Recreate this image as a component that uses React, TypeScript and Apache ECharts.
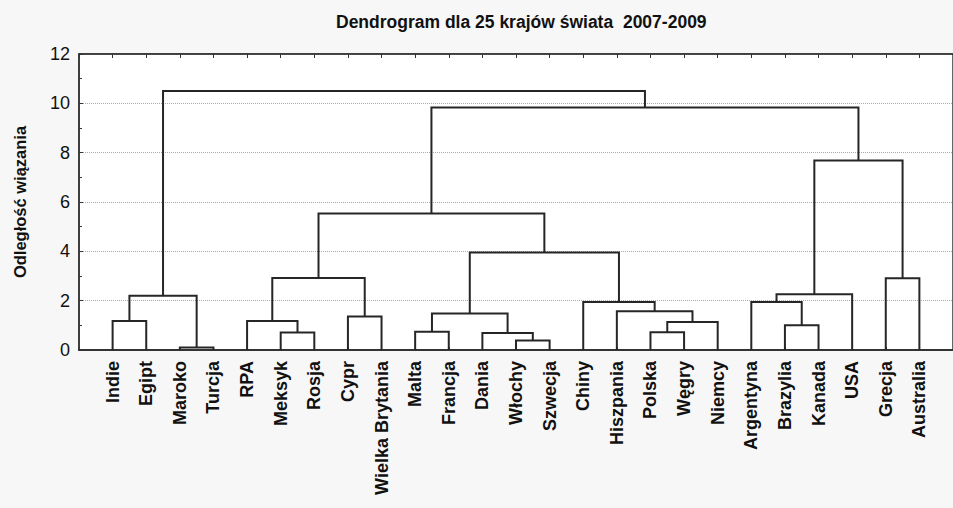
import React, { useEffect, useRef } from "react";
import * as echarts from "echarts";

const titleText = "Dendrogram dla 25 krajów świata  2007-2009";
const yAxisName = "Odległość wiązania";

const leaves = [
  "Indie", "Egipt", "Maroko", "Turcja", "RPA", "Meksyk", "Rosja", "Cypr",
  "Wielka Brytania", "Malta", "Francja", "Dania", "Włochy", "Szwecja", "Chiny",
  "Hiszpania", "Polska", "Węgry", "Niemcy", "Argentyna", "Brazylia", "Kanada",
  "USA", "Grecja", "Australia",
];

// linkage: cluster ids start at leaves.length (25)
const linkA = [2, 12, 11, 5, 16, 9, 20, 29, 0, 4, 7, 30, 15, 14, 19, 33, 39, 34, 23, 36, 42, 41, 45, 40];
const linkB = [3, 13, 26, 6, 17, 10, 21, 18, 1, 28, 8, 27, 32, 37, 31, 25, 22, 35, 24, 38, 44, 43, 46, 47];
const linkH = [0.1, 0.39, 0.69, 0.71, 0.72, 0.74, 1.0, 1.14, 1.18, 1.18, 1.36, 1.48, 1.57, 1.95, 1.95, 2.2, 2.26, 2.92, 2.91, 3.95, 5.53, 7.68, 9.83, 10.5];

const yTicks = [0, 2, 4, 6, 8, 10, 12];

function buildLinks() {
  const n = leaves.length;
  const pos: number[] = leaves.map((_, i) => i);
  const hgt: number[] = leaves.map(() => 0);
  const out: number[][] = [];
  for (let k = 0; k < linkA.length; k++) {
    const a = linkA[k];
    const b = linkB[k];
    const h = linkH[k];
    out.push([pos[a], hgt[a], pos[b], hgt[b], h]);
    pos[n + k] = (pos[a] + pos[b]) / 2;
    hgt[n + k] = h;
  }
  return out;
}

export default function App() {
  const ref = useRef<HTMLDivElement>(null);
  useEffect(() => {
    document.body.style.margin = "0";
    if (!ref.current) return;
    const chart = echarts.init(ref.current, null, { renderer: "svg" });
    const links = buildLinks();
    const font = "'Liberation Sans', Arial, Helvetica, sans-serif";
    chart.setOption({
      animation: false,
      backgroundColor: "#f7f7f7",
      title: {
        text: titleText,
        left: 331,
        top: 8,
        textStyle: { fontSize: 17.5, fontWeight: "bold", color: "#111", fontFamily: font },
      },
      grid: {
        left: 79,
        top: 54,
        bottom: 158,
        right: -3.5,
        show: true,
        backgroundColor: "#ffffff",
        borderColor: "#333",
        borderWidth: 1.5,
      },
      xAxis: [
        {
          type: "value",
          position: "bottom",
          min: -1,
          max: 25,
          interval: 1,
          axisLine: { show: true, onZero: false, lineStyle: { color: "#333", width: 2 } },
          axisTick: { show: true, inside: true, length: 3, lineStyle: { color: "#333" } },
          splitLine: { show: false },
          axisLabel: {
            rotate: 90,
            margin: 11,
            fontSize: 18,
            fontWeight: "bold",
            color: "#111",
            fontFamily: font,
            showMinLabel: true,
            showMaxLabel: true,
            formatter: (v: number) => (leaves[v] !== undefined ? leaves[v] : ""),
          },
        },
        {
          type: "value",
          position: "top",
          min: -1,
          max: 25,
          interval: 1,
          axisLine: { show: true, onZero: false, lineStyle: { color: "#333", width: 1.5 } },
          axisTick: { show: true, inside: true, length: 4, lineStyle: { color: "#333" } },
          splitLine: { show: false },
          axisLabel: { show: false },
        },
      ],
      yAxis: {
        type: "value",
        min: yTicks[0],
        max: yTicks[yTicks.length - 1],
        interval: 2,
        name: yAxisName,
        nameLocation: "middle",
        nameGap: 51,
        nameTextStyle: { fontSize: 16.5, fontWeight: "bold", color: "#111", fontFamily: font },
        axisLine: { show: true, onZero: false, lineStyle: { color: "#333", width: 1.5 } },
        axisTick: { show: true, inside: true, length: 4, lineStyle: { color: "#333" } },
        minorTick: { show: true, splitNumber: 2, length: 3, lineStyle: { color: "#333" } },
        splitLine: { show: true, lineStyle: { color: "#aaa", type: "dotted", width: 1 } },
        axisLabel: { fontSize: 18, color: "#111", margin: 9, fontFamily: font },
      },
      series: [
        {
          type: "custom",
          xAxisIndex: 0,
          yAxisIndex: 0,
          data: links,
          renderItem: (_params: any, api: any) => {
            const x1 = api.value(0);
            const y1 = api.value(1);
            const x2 = api.value(2);
            const y2 = api.value(3);
            const h = api.value(4);
            const pts = [
              api.coord([x1, y1]),
              api.coord([x1, h]),
              api.coord([x2, h]),
              api.coord([x2, y2]),
            ];
            return {
              type: "polyline",
              shape: { points: pts },
              style: { stroke: "#262626", lineWidth: 2, fill: "none" },
            };
          },
        },
      ],
    });
    return () => chart.dispose();
  }, []);
  return <div ref={ref} style={{ width: 953, height: 508 }} />;
}
